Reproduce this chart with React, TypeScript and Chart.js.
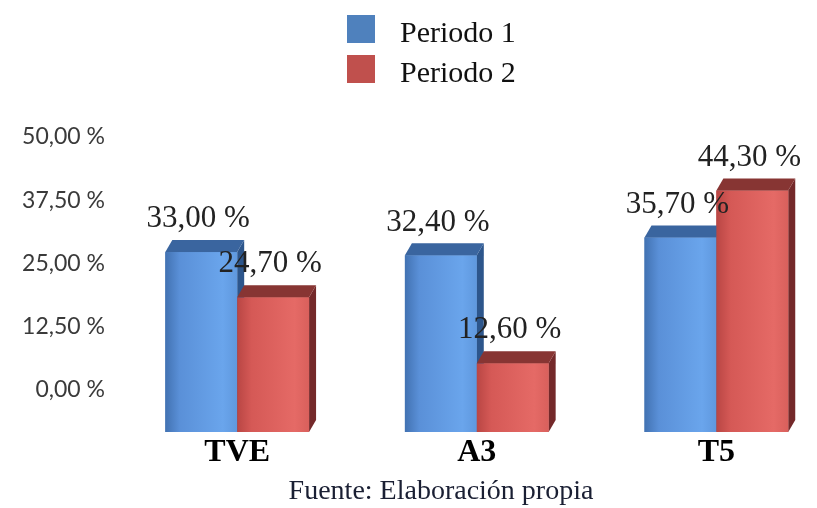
import { useEffect, useRef } from "react";
import { Chart, registerables } from "chart.js";
Chart.register(...registerables);

const categories = ["TVE", "A3", "T5"];
const seriesNames = ["Periodo 1", "Periodo 2"];
const periodo1 = [33.0, 32.4, 35.7];
const periodo2 = [24.7, 12.6, 44.3];
const yTicks = [0, 12.5, 25, 37.5, 50];
const footerText = "Fuente: Elaboración propia";

const fmt = (v: number) => v.toFixed(2).replace(".", ",") + " %";

const palettes = [
  { legend: "#4F81BD", front: ["#4272b2", "#5a90d8", "#6aa5ec", "#5f98de"], top: "#3a659f", side: "#2d568c" },
  { legend: "#C0504D", front: ["#b94644", "#d55956", "#e56a66", "#d9605c"], top: "#873533", side: "#74292a" },
];

const SERIF = "'Liberation Serif', 'DejaVu Serif', serif";
const SANS = "Lato, 'Liberation Sans', Arial, sans-serif";
const X_MIN = -0.51;
const X_MAX = 2.42;

const bar3d = {
  id: "bar3d",
  afterDatasetsDraw(chart: any) {
    const ctx = chart.ctx;
    const dx = 7, dy = 12;
    ctx.save();
    chart.data.datasets.forEach((_ds: any, di: number) => {
      const meta = chart.getDatasetMeta(di);
      const pal = palettes[di];
      meta.data.forEach((el: any) => {
        const { x, y, base, width } = el.getProps(["x", "y", "base", "width"], true);
        const l = x - width / 2, r = x + width / 2;
        ctx.fillStyle = pal.side;
        ctx.beginPath();
        ctx.moveTo(r, y);
        ctx.lineTo(r + dx, y - dy);
        ctx.lineTo(r + dx, base - dy);
        ctx.lineTo(r, base);
        ctx.closePath();
        ctx.fill();
        const g = ctx.createLinearGradient(l, 0, r, 0);
        g.addColorStop(0, pal.front[0]);
        g.addColorStop(0.2, pal.front[1]);
        g.addColorStop(0.8, pal.front[2]);
        g.addColorStop(1, pal.front[3]);
        ctx.fillStyle = g;
        ctx.fillRect(l, y, width, base - y);
        ctx.fillStyle = pal.top;
        ctx.beginPath();
        ctx.moveTo(l, y);
        ctx.lineTo(r, y);
        ctx.lineTo(r + dx, y - dy);
        ctx.lineTo(l + dx, y - dy);
        ctx.closePath();
        ctx.fill();
      });
    });
    ctx.font = `31px ${SERIF}`;
    ctx.fillStyle = "#222";
    ctx.textAlign = "center";
    ctx.textBaseline = "middle";
    chart.data.datasets.forEach((ds: any, di: number) => {
      const meta = chart.getDatasetMeta(di);
      meta.data.forEach((el: any, i: number) => {
        const { x, y } = el.getProps(["x", "y"], true);
        ctx.fillText(fmt(ds.data[i].y), x - 3, y - 33);
      });
    });
    ctx.restore();
  },
  afterDraw(chart: any) {
    const ctx = chart.ctx;
    ctx.save();
    ctx.font = `30px ${SERIF}`;
    ctx.textAlign = "left";
    ctx.textBaseline = "alphabetic";
    seriesNames.forEach((name, i) => {
      const top = 15 + i * 40;
      ctx.fillStyle = palettes[i].legend;
      ctx.fillRect(347, top, 28, 28);
      ctx.fillStyle = "#111";
      ctx.fillText(name, 400, top + 27);
    });
    ctx.font = `28px ${SERIF}`;
    ctx.textAlign = "center";
    ctx.fillStyle = "#1a1f33";
    ctx.fillText(footerText, 441, 499);
    ctx.restore();
  },
};

export default function App() {
  const ref = useRef<HTMLCanvasElement>(null);
  useEffect(() => {
    if (!ref.current) return;
    const chart = new Chart(ref.current, {
      type: "bar",
      data: {
        datasets: [
          {
            label: seriesNames[0],
            data: periodo1.map((v, i) => ({ x: i, y: v })),
            backgroundColor: palettes[0].legend,
            categoryPercentage: 0.6,
            barPercentage: 1,
          },
          {
            label: seriesNames[1],
            data: periodo2.map((v, i) => ({ x: i, y: v })),
            backgroundColor: palettes[1].legend,
            categoryPercentage: 0.6,
            barPercentage: 1,
          },
        ],
      },
      options: {
        responsive: false,
        animation: false,
        layout: { padding: { top: 100, left: 0, right: 0, bottom: 0 } },
        plugins: { legend: { display: false }, tooltip: { enabled: false } },
        scales: {
          x: {
            type: "linear",
            min: X_MIN,
            max: X_MAX,
            bounds: "data",
            offset: false,
            grid: { display: false, drawTicks: false, offset: false },
            border: { display: false },
            afterDataLimits: (s: any) => {
              s.min = X_MIN;
              s.max = X_MAX;
            },
            afterBuildTicks: (s: any) => {
              s.ticks = categories.map((_, i) => ({ value: i }));
              s.min = X_MIN;
              s.max = X_MAX;
            },
            afterFit: (s: any) => {
              s.height = 76;
              s.paddingLeft = 0;
              s.paddingRight = 0;
            },
            ticks: {
              callback: (_v: any, i: number) => categories[i],
              font: { family: SERIF, size: 32, weight: "bold" },
              color: "#000",
              padding: 2,
              maxRotation: 0,
              autoSkip: false,
              includeBounds: false,
            },
          },
          y: { display: false, min: 0, max: 60.9 },
          yl: {
            position: "left",
            min: -8.3,
            max: 57.3,
            grid: { display: false },
            border: { display: false },
            afterBuildTicks: (s: any) => {
              s.ticks = yTicks.map((v) => ({ value: v }));
            },
            afterFit: (s: any) => {
              s.width = 115;
            },
            ticks: {
              callback: (v: any) => fmt(Number(v)),
              font: { family: SANS, size: 23 },
              color: "#3a3a3a",
              padding: 2,
            },
          },
        },
      } as any,
      plugins: [bar3d],
    });
    return () => chart.destroy();
  }, []);
  return (
    <div style={{ position: "absolute", left: 0, top: 0, width: 817, height: 508, background: "#fff" }}>
      <canvas ref={ref} width={817} height={508} />
    </div>
  );
}
